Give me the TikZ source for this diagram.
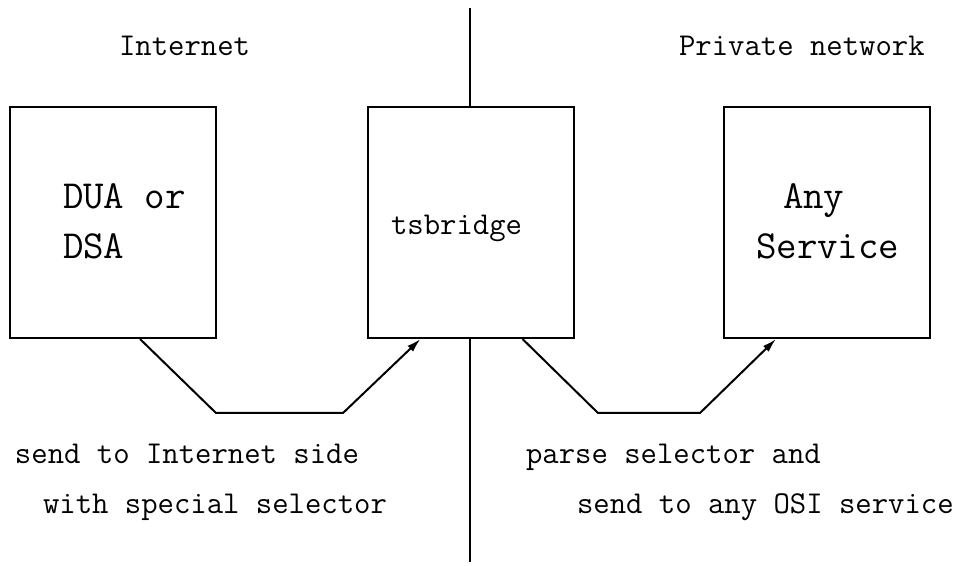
\documentclass[tikz,border=0pt]{standalone}
\usetikzlibrary{positioning}
\usetikzlibrary{arrows.meta}
\tikzset{
block/.style = {draw, fill=white, rectangle, minimum height=115.5pt, minimum width=103pt},
tmp/.style  = {coordinate},
lbl/.style = {font=\fontsize{15.9}{18}\selectfont\ttfamily, inner sep=0pt, anchor=base west},
biglbl/.style = {lbl, font=\fontsize{19.9}{23}\selectfont\ttfamily}
}

\begin{document}
\begin{tikzpicture}[x=0.5pt, y=-0.5pt, line width=1pt, >={Latex[length=7pt,width=4pt]}]
    \useasboundingbox (0,0) rectangle (954,566);
    % We start by placing the blocks
    \node at (113,222.5) [block] (dua) {};
    \node [block, right=75pt of dua] (bridge) {};
    \node [block, right=74pt of bridge] (svc) {};

    % the two sides
    \node at (118,56) [lbl, name=inet] {Internet};
    \node at (678,56) [lbl, name=priv] {Private network};

    % block contents
    \node at (62,209) [biglbl, name=dua1] {DUA or};
    \node at (62,259) [biglbl, name=dua2] {DSA};
    \node at (390,235) [lbl, name=tsb] {tsbridge};
    \node at (782,209) [biglbl, name=svc1] {Any};
    \node at (755,259) [biglbl, name=svc2] {Service};

    % notes under the paths
    \node at (14,464) [lbl, name=note1] {send to Internet side};
    \node at (42,514) [lbl, name=note2] {with special selector};
    \node at (525,464) [lbl, name=note3] {parse selector and};
    \node at (576,514) [lbl, name=note4] {send to any OSI service};

    % the dividing line
    \node at (470,8) [tmp] (divtop) {};
    \node at (470,562) [tmp] (divbot) {};
    \draw (divtop) -- (divtop |- bridge.north);
    \draw (divbot |- bridge.south) -- (divbot);

    % paths through the bridge
    \node at (216,413) [tmp] (k1) {};
    \node at (343,413) [tmp] (k2) {};
    \node at (598,413) [tmp] (k3) {};
    \node at (700,413) [tmp] (k4) {};
    \draw [->] ([xshift=13.5pt]dua.south) -- (k1) -- (k2) -- ([xshift=-25.25pt]bridge.south);
    \draw [->] ([xshift=25.75pt]bridge.south) -- (k3) -- (k4) -- ([xshift=-25.5pt]svc.south);
\end{tikzpicture}
\end{document}
